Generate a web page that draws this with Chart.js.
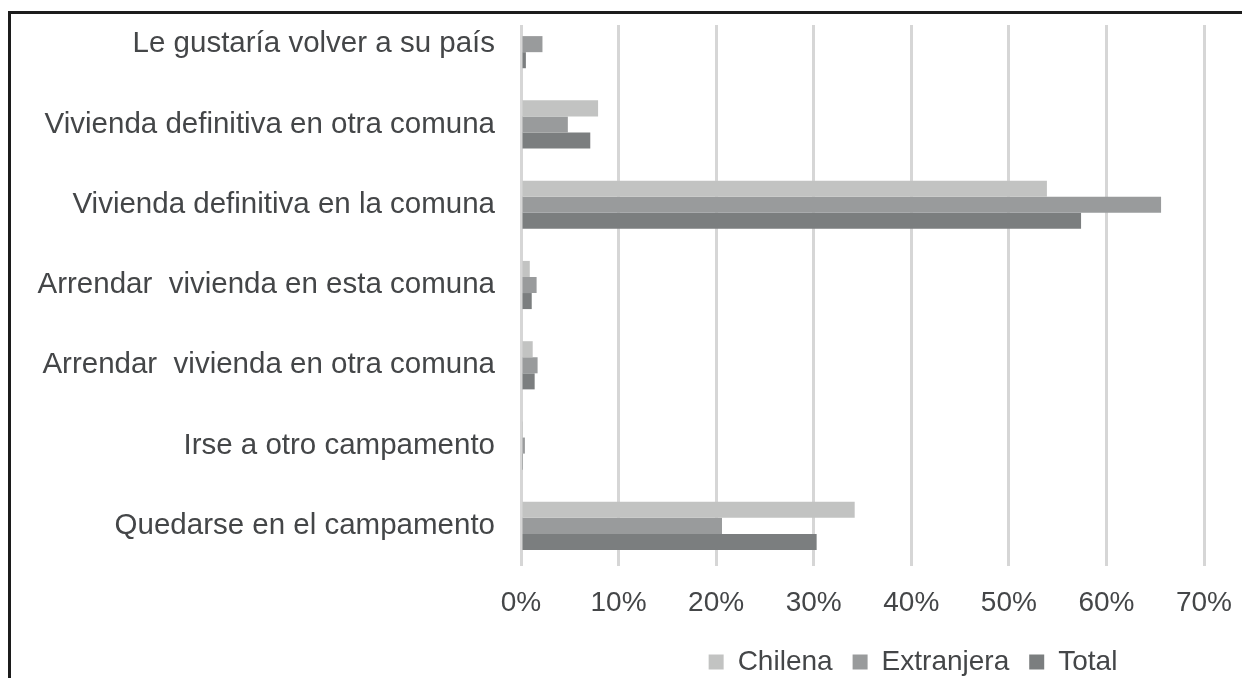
<!DOCTYPE html>
<html>
<head>
<meta charset="utf-8">
<script src="https://cdn.jsdelivr.net/npm/chart.js@4/dist/chart.umd.min.js"></script>
<style>
  html, body { margin: 0; padding: 0; background: #fff; overflow: hidden; }
  #wrap { position: relative; width: 1242px; height: 678px; }
  #chart { position: absolute; left: 0; top: 0; }
  #frame { position: absolute; left: 8px; top: 11px; width: 1300px; height: 700px;
           border-top: 3px solid #1c1c1c; border-left: 3px solid #1c1c1c; pointer-events: none; }
  #cover { position: absolute; left: 515px; top: 0; width: 727px; height: 25px; background: #fff; }
</style>
</head>
<body>
<div id="wrap">
  <canvas id="chart" width="1242" height="686"></canvas>
  <div id="cover"></div>
  <div id="frame"></div>
</div>
<script>
// Data (percent)
var categories = [
    "Le gustaría volver a su país",
    "Vivienda definitiva en otra comuna",
    "Vivienda definitiva en la comuna",
    "Arrendar  vivienda en esta comuna",
    "Arrendar  vivienda en otra comuna",
    "Irse a otro campamento",
    "Quedarse en el campamento"
]
var chilena    = [0,   7.9, 53.9, 0.9, 1.2, 0.2, 34.2]
var extranjera = [2.2, 4.8, 65.6, 1.6, 1.7, 0.4, 20.6]
var total      = [0.5, 7.1, 57.4, 1.1, 1.4, 0.2, 30.3]
var xTicks = [0, 10, 20, 30, 40, 50, 60, 70]

var textColor = "#444648"
var fontFamily = "'Liberation Sans', Arial, sans-serif"

// the legend in the original is not centred on the canvas
const legendShift = {
    id: "legendShift",
    afterLayout(chart) {
        chart.legend.left += 306
        chart.legend.right += 306
    }
}

function createChart() {
    new Chart("chart", {
        type: "bar",
        data: {
            labels: categories,
            datasets: [
                { label: "Chilena", data: chilena, backgroundColor: "#c2c3c2" },
                { label: "Extranjera", data: extranjera, backgroundColor: "#999b9c" },
                { label: "Total", data: total, backgroundColor: "#7b7e7f" }
            ]
        },
        options: {
            indexAxis: "y",
            responsive: false,
            animation: false,
            devicePixelRatio: 1,
            categoryPercentage: 0.6,
            barPercentage: 1,
            layout: { padding: { top: 4, right: 38, left: 10, bottom: 0 } },
            scales: {
                x: {
                    min: 0,
                    max: 70,
                    afterBuildTicks: (scale) => {
                        scale.ticks = xTicks.map(v => ({ value: v }))
                    },
                    afterFit: (scale) => {
                        scale.paddingLeft = 0
                        scale.paddingRight = 0
                        scale.height = 62
                    },
                    ticks: {
                        callback: (v) => v + "%",
                        color: textColor,
                        font: { family: fontFamily, size: 28 },
                        padding: 20
                    },
                    grid: { color: "#d6d6d6", lineWidth: 3, drawTicks: false },
                    border: { display: false }
                },
                y: {
                    afterFit: (scale) => {
                        scale.paddingTop = 0
                        scale.paddingBottom = 0
                        scale.width = 511
                    },
                    ticks: {
                        color: textColor,
                        font: { family: fontFamily, size: 29.5 },
                        padding: 26
                    },
                    grid: { display: false, drawTicks: false },
                    border: { display: false }
                }
            },
            plugins: {
                legend: {
                    position: "bottom",
                    labels: {
                        color: textColor,
                        font: { family: fontFamily, size: 28 },
                        boxWidth: 15,
                        boxHeight: 15,
                        padding: 20
                    }
                },
                tooltip: { enabled: false }
            }
        },
        plugins: [legendShift]
    })
}

createChart()
</script>
</body>
</html>
